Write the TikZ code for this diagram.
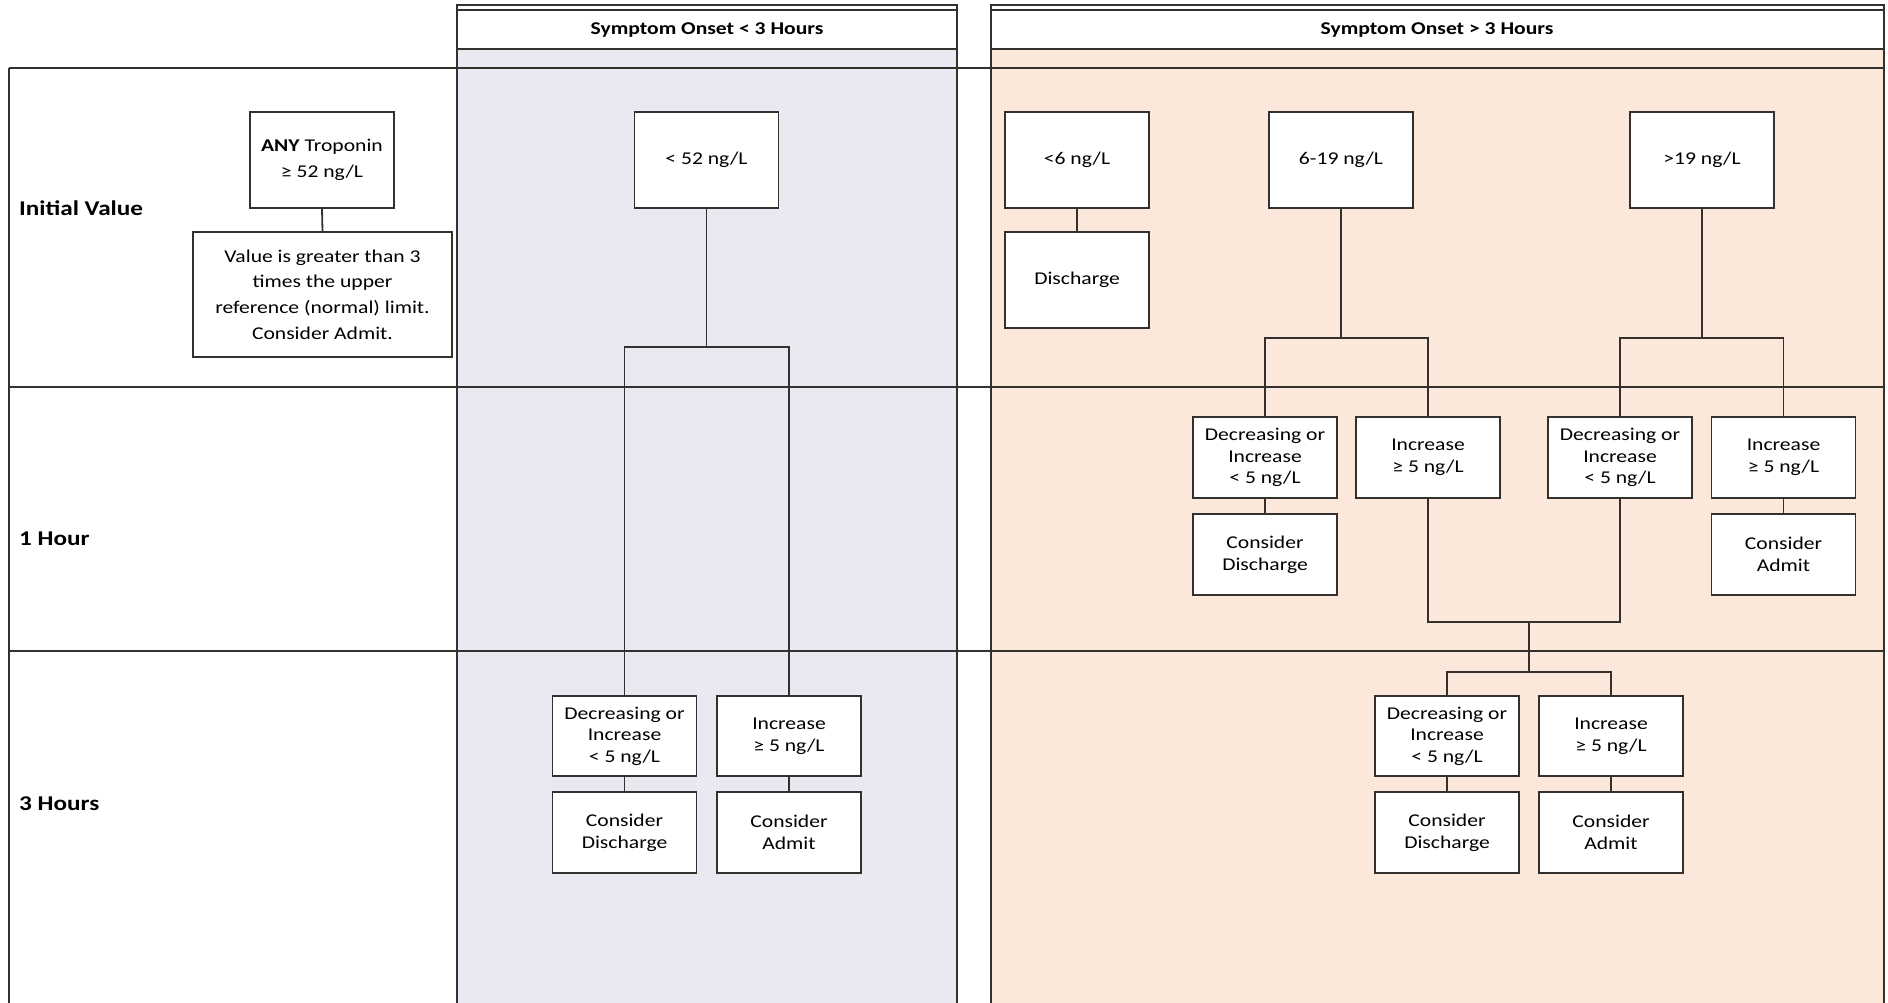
\documentclass[tikz,border=0pt]{standalone}
\usepackage{fontspec}
\setmainfont{Carlito}[FakeStretch=1.2]
\definecolor{lav}{RGB}{234,232,240}
\definecolor{peach}{RGB}{252,232,219}
\definecolor{ln}{RGB}{52,48,46}
\begin{document}
\begin{tikzpicture}[x=1pt,y=-1pt,
  box/.style={draw=ln, line width=1.8pt, fill=white, align=center, inner sep=0pt,
    minimum width=144pt, font=\fontsize{18}{21.6}\selectfont},
  tallbox/.style={box, minimum height=96pt},
  medbox/.style={box, minimum height=81pt},
  conn/.style={draw=ln, line width=1.8pt},
  lane/.style={draw=ln, line width=1.8pt},
  rowline/.style={draw=ln, line width=2.8pt},
  rowlabel/.style={anchor=west, inner sep=0pt, font=\fontsize{21}{25}\selectfont\bfseries},
  headtext/.style={inner sep=0pt, font=\fontsize{18}{21}\selectfont\bfseries}
]
\useasboundingbox (0,0) rectangle (1888,1003);
% lane fills
\fill[lav] (457,49) rectangle (957,1003);
\fill[peach] (991,49) rectangle (1884,1003);
% row frame
\draw[rowline] (9,68) -- (1884,68);
\draw[rowline] (9,387) -- (1884,387);
\draw[rowline] (9,651) -- (1884,651);
\draw[lane] (9,68) -- (9,1003);
% column lanes
\draw[lane] (457,1003) -- (457,5) -- (957,5) -- (957,1003);
\draw[lane] (457,10) -- (957,10);
\draw[lane] (457,49) -- (957,49);
\draw[lane] (991,1003) -- (991,5) -- (1884,5) -- (1884,1003);
\draw[lane] (991,10) -- (1884,10);
\draw[lane] (991,49) -- (1884,49);
% headers
\node[headtext] (hdrA) at (707,30) {Symptom Onset < 3 Hours};
\node[headtext] (hdrB) at (1437,30) {Symptom Onset > 3 Hours};
% row labels
\node[rowlabel] (lblInit) at (19,208) {Initial Value};
\node[rowlabel] (lblOne) at (19,539) {1 Hour};
\node[rowlabel] (lblThree) at (19,804) {3 Hours};
% connector junctions
\coordinate (j1) at (706.5,347);
\coordinate (j2) at (1341,338);
\coordinate (j2b) at (1702,338);
\coordinate (j3) at (1529,622);
\coordinate (j4) at (1529,672);
% initial value boxes
\node[tallbox, font=\fontsize{18}{26}\selectfont] (any) at (322,160) {\textbf{ANY} Troponin\\≥ 52 ng/L};
\node[box, minimum width=259pt, minimum height=125pt, font=\fontsize{18}{25.7}\selectfont] (val) at (322.5,294.5)
  {Value is greater than 3\\times the upper\\reference (normal) limit.\\Consider Admit.};
\node[tallbox] (lt52) at (706.5,160) {< 52 ng/L};
\node[tallbox] (lt6) at (1077,160) {<6 ng/L};
\node[tallbox] (dis) at (1077,280) {Discharge};
\node[tallbox] (mid) at (1341,160) {6-19 ng/L};
\node[tallbox] (gt19) at (1702,160) {>19 ng/L};
% 1 hour boxes
\node[medbox] (dec1) at (1265,457.5) {Decreasing or\\Increase\\< 5 ng/L};
\node[medbox] (inc1) at (1428,457.5) {Increase\\≥ 5 ng/L};
\node[medbox] (dec2) at (1620,457.5) {Decreasing or\\Increase\\< 5 ng/L};
\node[medbox] (inc2) at (1783.5,457.5) {Increase\\≥ 5 ng/L};
\node[medbox] (cd1) at (1265,554.5) {Consider\\Discharge};
\node[medbox] (ca2) at (1783.5,554.5) {Consider\\Admit};
% 3 hour boxes
\node[medbox, minimum height=80pt] (decA) at (624.5,736) {Decreasing or\\Increase\\< 5 ng/L};
\node[medbox, minimum height=80pt] (incA) at (789,736) {Increase\\≥ 5 ng/L};
\node[medbox] (cdA) at (624.5,832.5) {Consider\\Discharge};
\node[medbox] (caA) at (789,832.5) {Consider\\Admit};
\node[medbox, minimum height=80pt] (dec3) at (1447,736) {Decreasing or\\Increase\\< 5 ng/L};
\node[medbox, minimum height=80pt] (inc3) at (1611,736) {Increase\\≥ 5 ng/L};
\node[medbox] (cd3) at (1447,832.5) {Consider\\Discharge};
\node[medbox] (ca3) at (1611,832.5) {Consider\\Admit};
% connectors
\draw[conn] (any.south) -- (val.north);
\draw[conn] (lt6.south) -- (dis.north);
\draw[conn] (lt52.south) -- (j1);
\draw[conn] (decA.north) |- (j1) -| (incA.north);
\draw[conn] (decA.south) -- (cdA.north);
\draw[conn] (incA.south) -- (caA.north);
\draw[conn] (mid.south) -- (j2);
\draw[conn] (dec1.north) |- (j2) -| (inc1.north);
\draw[conn] (gt19.south) -- (j2b);
\draw[conn] (dec2.north) |- (j2b) -| (inc2.north);
\draw[conn] (dec1.south) -- (cd1.north);
\draw[conn] (inc2.south) -- (ca2.north);
\draw[conn, line width=2.4pt] (inc1.south) |- (j3) -| (dec2.south);
\draw[conn] (j3) -- (j4);
\draw[conn] (dec3.north) |- (j4) -| (inc3.north);
\draw[conn] (dec3.south) -- (cd3.north);
\draw[conn] (inc3.south) -- (ca3.north);
\end{tikzpicture}
\end{document}
